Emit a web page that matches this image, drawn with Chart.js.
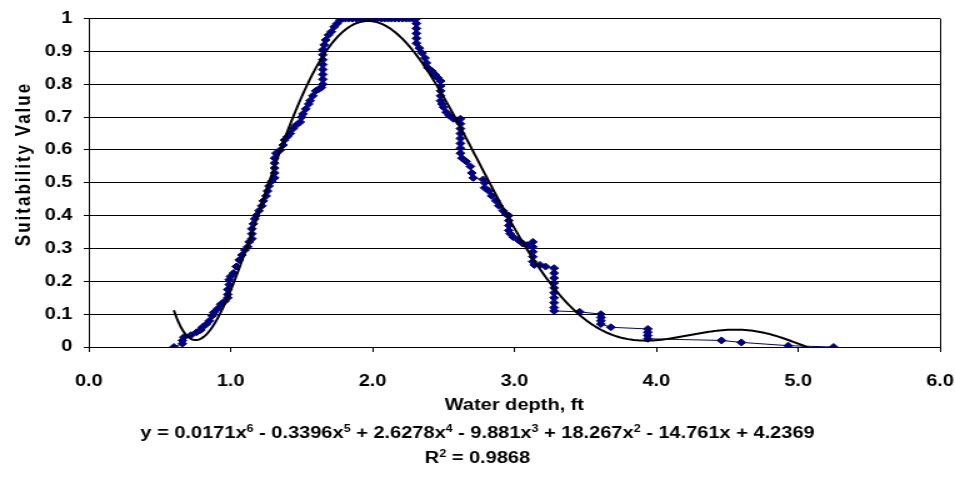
<!DOCTYPE html>
<html>
<head>
<meta charset="utf-8">
<title>Suitability vs water depth</title>
<script src="https://cdn.jsdelivr.net/npm/chart.js@4.4.1/dist/chart.umd.min.js"></script>
<style>
  html, body { margin: 0; padding: 0; background: #fff; }
</style>
</head>
<body>
<!-- drawn narrow, then widened by CSS like the exported chart -->
<canvas id="depthChart" width="764" height="479" style="display:block;width:955px;height:479px"></canvas>
<script>
// Observed suitability by water depth (ft)
const depth = [
    0.60, 0.66, 0.66, 0.67, 0.72, 0.76, 0.79, 0.80, 0.83, 0.85,
    0.87, 0.88, 0.91, 0.93, 0.96, 0.98, 0.98, 0.98, 0.99, 0.99,
    1.00, 1.02, 1.04, 1.06, 1.08, 1.10, 1.12, 1.13, 1.15, 1.15,
    1.15, 1.16, 1.17, 1.18, 1.20, 1.22, 1.23, 1.25, 1.26, 1.27,
    1.29, 1.31, 1.31, 1.31, 1.31, 1.31, 1.32, 1.35, 1.37, 1.38,
    1.40, 1.42, 1.44, 1.46, 1.49, 1.50, 1.51, 1.53, 1.55, 1.56,
    1.58, 1.60, 1.62, 1.64, 1.65, 1.65, 1.65, 1.65, 1.65, 1.65,
    1.65, 1.65, 1.66, 1.67, 1.69, 1.71, 1.73, 1.75, 1.77, 1.79,
    1.81, 1.835, 1.86, 1.885, 1.91, 1.935, 1.96, 1.985, 2.01, 2.035,
    2.06, 2.085, 2.11, 2.135, 2.16, 2.185, 2.21, 2.235, 2.26, 2.285,
    2.31, 2.31, 2.31, 2.31, 2.31, 2.31, 2.33, 2.35, 2.37, 2.38,
    2.39, 2.42, 2.44, 2.46, 2.48, 2.48, 2.48, 2.48, 2.48, 2.49,
    2.50, 2.52, 2.54, 2.57, 2.60, 2.62, 2.62, 2.62, 2.62, 2.62,
    2.62, 2.62, 2.62, 2.63, 2.66, 2.69, 2.70, 2.71, 2.78, 2.79,
    2.79, 2.82, 2.84, 2.87, 2.89, 2.92, 2.94, 2.96, 2.96, 2.96,
    2.96, 2.97, 2.99, 3.03, 3.06, 3.09, 3.13, 3.13, 3.13, 3.13,
    3.13, 3.14, 3.18, 3.22, 3.28, 3.28, 3.28, 3.28, 3.28, 3.28,
    3.28, 3.28, 3.28, 3.28, 3.46, 3.61, 3.61, 3.61, 3.61, 3.68,
    3.94, 3.94, 3.94, 3.94, 4.46, 4.60, 4.93, 5.25
];
const suitability = [
    0.000, 0.010, 0.020, 0.030, 0.036, 0.045, 0.052, 0.060, 0.070, 0.080,
    0.095, 0.105, 0.117, 0.130, 0.140, 0.150, 0.160, 0.175, 0.190, 0.205,
    0.215, 0.225, 0.245, 0.265, 0.280, 0.295, 0.305, 0.320, 0.330, 0.345,
    0.360, 0.375, 0.390, 0.400, 0.415, 0.430, 0.445, 0.460, 0.475, 0.490,
    0.505, 0.515, 0.530, 0.545, 0.560, 0.575, 0.590, 0.600, 0.615, 0.630,
    0.640, 0.650, 0.665, 0.675, 0.685, 0.700, 0.710, 0.725, 0.740, 0.750,
    0.765, 0.780, 0.785, 0.790, 0.800, 0.815, 0.830, 0.845, 0.860, 0.875,
    0.890, 0.905, 0.920, 0.935, 0.950, 0.960, 0.975, 0.985, 0.995, 1.000,
    1.000, 1.000, 1.000, 1.000, 1.000, 1.000, 1.000, 1.000, 1.000, 1.000,
    1.000, 1.000, 1.000, 1.000, 1.000, 1.000, 1.000, 1.000, 1.000, 1.000,
    1.000, 0.985, 0.970, 0.955, 0.940, 0.925, 0.910, 0.895, 0.880, 0.865,
    0.850, 0.840, 0.830, 0.820, 0.810, 0.795, 0.780, 0.765, 0.750, 0.740,
    0.730, 0.715, 0.705, 0.695, 0.690, 0.695, 0.680, 0.665, 0.650, 0.635,
    0.620, 0.605, 0.590, 0.575, 0.565, 0.550, 0.530, 0.515, 0.510, 0.500,
    0.485, 0.475, 0.460, 0.445, 0.430, 0.415, 0.405, 0.400, 0.385, 0.370,
    0.355, 0.345, 0.335, 0.325, 0.315, 0.310, 0.320, 0.305, 0.290, 0.275,
    0.260, 0.250, 0.250, 0.245, 0.240, 0.225, 0.210, 0.195, 0.180, 0.165,
    0.150, 0.135, 0.120, 0.110, 0.107, 0.100, 0.090, 0.080, 0.070, 0.060,
    0.055, 0.045, 0.035, 0.025, 0.020, 0.014, 0.004, 0.000
];

// 6th order polynomial as printed under the axis, constant term first
const trendCoef = [4.2369, -14.761, 18.267, -9.881, 2.6278, -0.3396, 0.0171];
const rSquared = '0.9868';

const xTickLabels = ['0.0', '1.0', '2.0', '3.0', '4.0', '5.0', '6.0'];
const yTickLabels = ['0', '0.1', '0.2', '0.3', '0.4', '0.5', '0.6', '0.7', '0.8', '0.9', '1'];
const xTitle = 'Water depth, ft';
const yTitle = 'Suitability Value';

const FONT = '"Liberation Sans", Arial, sans-serif';
const NAVY = '#000080';

// least squares polynomial; the printed coefficients are rounded too far
// to reproduce the curve out at 5 ft, so the fit is redone on the data
function polyFit(xs, ys, degree) {
    const lo = Math.min(...xs), hi = Math.max(...xs);
    const mid = (lo + hi) / 2, half = (hi - lo) / 2;
    const n = degree + 1;
    const A = Array.from({ length: n }, () => new Array(n + 1).fill(0));
    xs.forEach((x, k) => {
        const t = (x - mid) / half;
        const pw = [1];
        for (let i = 1; i < 2 * n; i++) pw.push(pw[i - 1] * t);
        for (let i = 0; i < n; i++) {
            for (let j = 0; j < n; j++) A[i][j] += pw[i + j];
            A[i][n] += pw[i] * ys[k];
        }
    });
    for (let c = 0; c < n; c++) {
        let p = c;
        for (let r = c + 1; r < n; r++) if (Math.abs(A[r][c]) > Math.abs(A[p][c])) p = r;
        [A[c], A[p]] = [A[p], A[c]];
        for (let r = 0; r < n; r++) {
            if (r === c) continue;
            const f = A[r][c] / A[c][c];
            for (let k = c; k <= n; k++) A[r][k] -= f * A[c][k];
        }
    }
    const coef = A.map((row, i) => row[n] / row[i]);
    return x => {
        const t = (x - mid) / half;
        let s = 0;
        for (let i = n - 1; i >= 0; i--) s = s * t + coef[i];
        return s;
    };
}

const observed = depth.map((d, i) => ({ x: d, y: suitability[i] }));
const trend = polyFit(depth, suitability, 6);

// sample the fitted curve across the range of the observations
const fitted = [];
const xFrom = depth[0], xTo = depth[depth.length - 1];
for (let k = 0; xFrom + k * 0.01 <= xTo + 1e-9; k++) {
    const x = xFrom + k * 0.01;
    fitted.push({ x: x, y: trend(x) });
}

// "y = 0.0171x6 - ..." written out from the printed coefficients
function equationParts() {
    const parts = [{ text: 'y = ' }];
    for (let p = trendCoef.length - 1; p >= 0; p--) {
        const c = trendCoef[p];
        let s = (p === trendCoef.length - 1) ? '' : (c < 0 ? ' - ' : ' + ');
        s += String(Math.abs(c));
        if (p >= 1) s += 'x';
        parts.push({ text: s });
        if (p >= 2) parts.push({ text: String(p), sup: true });
    }
    return parts;
}

function drawRich(ctx, parts, cx, baseline) {
    const base = 'bold 16px ' + FONT;
    const small = 'bold 10px ' + FONT;
    let total = 0;
    parts.forEach(p => {
        ctx.font = p.sup ? small : base;
        p.w = ctx.measureText(p.text).width;
        total += p.w;
    });
    let x = cx - total / 2;
    ctx.fillStyle = '#000';
    ctx.textAlign = 'left';
    ctx.textBaseline = 'alphabetic';
    parts.forEach(p => {
        ctx.font = p.sup ? small : base;
        ctx.fillText(p.text, x, p.sup ? baseline - 6 : baseline);
        x += p.w;
    });
}

const fitLabel = {
    id: 'fitLabel',
    afterDraw(chart) {
        const ctx = chart.ctx;
        const cx = chart.width / 2;
        ctx.save();
        drawRich(ctx, equationParts(), cx, 438);
        drawRich(ctx, [{ text: 'R' }, { text: '2', sup: true }, { text: ' = ' + rSquared }], cx, 463);
        ctx.restore();
    }
};

// vertical axis title, set a little loose and above centre
const yTitleLabel = {
    id: 'yTitleLabel',
    afterDraw(chart) {
        const ctx = chart.ctx;
        ctx.save();
        ctx.translate(19, 164);
        ctx.rotate(-Math.PI / 2);
        ctx.font = 'bold 17px ' + FONT;
        if ('letterSpacing' in ctx) ctx.letterSpacing = '2px';
        ctx.fillStyle = '#000';
        ctx.textAlign = 'center';
        ctx.textBaseline = 'middle';
        ctx.fillText(yTitle, 0, 0);
        ctx.restore();
    }
};

// right edge of the plot frame
const plotFrame = {
    id: 'plotFrame',
    beforeDatasetsDraw(chart) {
        const { ctx, chartArea } = chart;
        const x = Math.round(chartArea.right) + 0.5;
        ctx.save();
        ctx.strokeStyle = '#000';
        ctx.lineWidth = 1;
        ctx.beginPath();
        ctx.moveTo(x, chartArea.top);
        ctx.lineTo(x, chartArea.bottom);
        ctx.stroke();
        ctx.restore();
    }
};

const tickFont = { family: FONT, size: 16, weight: 'bold' };

new Chart(document.getElementById('depthChart'), {
    type: 'scatter',
    data: {
        datasets: [
            {
                label: 'Poly. fit',
                data: fitted,
                showLine: true,
                borderColor: '#000',
                borderWidth: 2,
                pointRadius: 0,
                tension: 0,
                order: 0
            },
            {
                label: 'Suitability',
                data: observed,
                showLine: true,
                borderColor: NAVY,
                borderWidth: 1,
                backgroundColor: NAVY,
                pointStyle: 'rectRot',
                pointRadius: 3.5,
                pointBorderWidth: 1,
                pointBorderColor: NAVY,
                pointBackgroundColor: NAVY,
                order: 1
            }
        ]
    },
    options: {
        responsive: false,
        animation: false,
        events: [],
        layout: { padding: { top: 16, right: 12, left: 0, bottom: 0 } },
        plugins: {
            legend: { display: false },
            tooltip: { enabled: false }
        },
        scales: {
            x: {
                type: 'linear',
                min: 0,
                max: 6,
                afterFit: s => {
                    s.height = 132;
                    // the end labels may hang past the plot edges
                    s.paddingLeft = 0;
                    s.paddingRight = 0;
                },
                ticks: {
                    stepSize: 1,
                    padding: 20,
                    color: '#000',
                    font: tickFont,
                    callback: (v, i) => xTickLabels[i]
                },
                grid: { drawOnChartArea: false, tickLength: 5, color: '#000' },
                border: { color: '#000' },
                title: {
                    display: true,
                    text: xTitle,
                    color: '#000',
                    font: tickFont,
                    padding: { top: 0, bottom: 64 }
                }
            },
            y: {
                min: 0,
                max: 1,
                afterFit: s => { s.width = 71; },
                ticks: {
                    stepSize: 0.1,
                    padding: 9,
                    color: '#000',
                    font: tickFont,
                    callback: (v, i) => yTickLabels[i]
                },
                grid: { color: '#000', tickLength: 4 },
                border: { color: '#000' },
                title: { display: false }
            }
        }
    },
    plugins: [plotFrame, fitLabel, yTitleLabel]
});
</script>
</body>
</html>
